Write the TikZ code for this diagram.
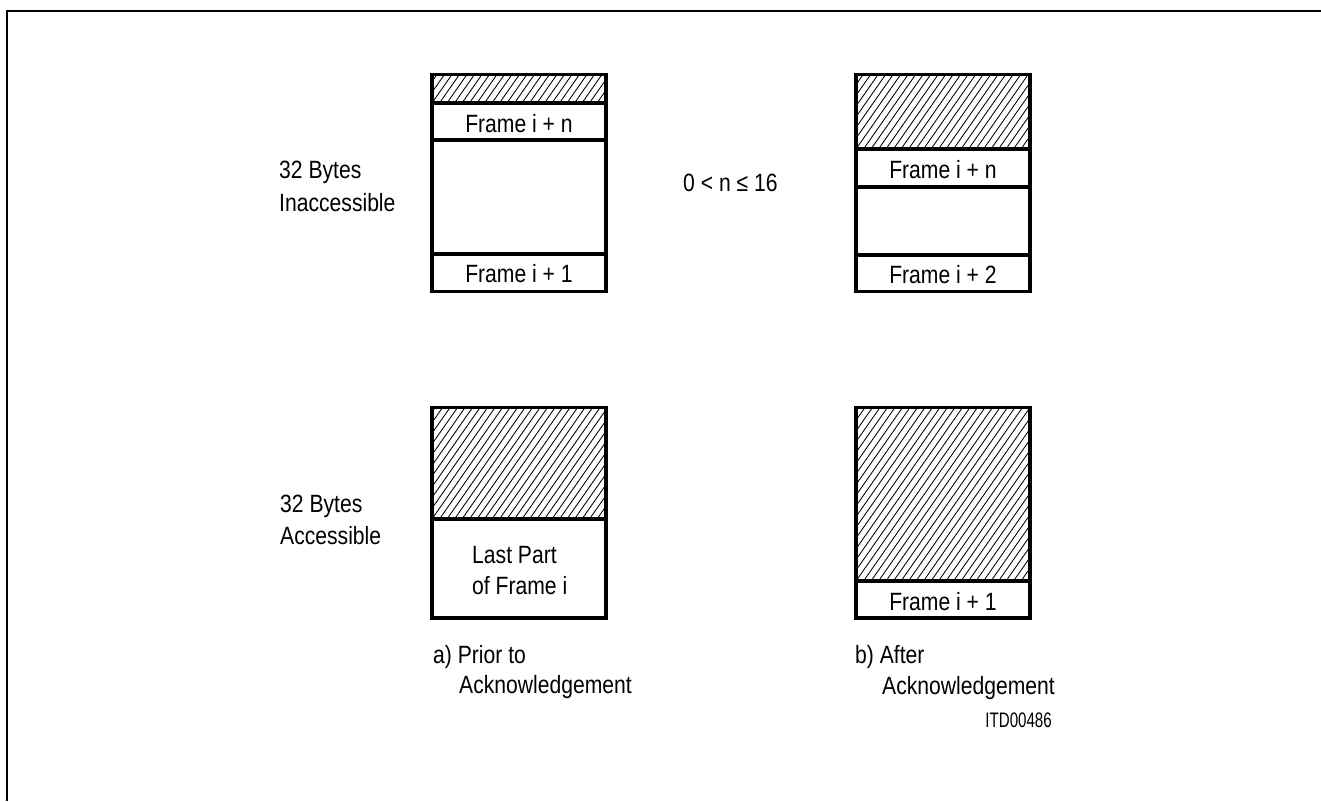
\documentclass[tikz,border=0pt]{standalone}
\usepackage{fontspec}
\setmainfont[FakeStretch=0.845]{Liberation Sans}
\newfontfamily\itdfont[FakeStretch=0.72]{Liberation Sans}
\newcommand{\hatchrect}[4]{%
  \begin{scope}
    \clip (#1,#2) rectangle (#3,#4);
    \foreach \s in {0,7.5,...,330}
      \draw[hatchline] ({#1-150+\s},#4) -- ++(140,-200);
  \end{scope}}
\begin{document}
\begin{tikzpicture}[x=1pt,y=-1pt,
  outline/.style={line width=3.5pt},
  divider/.style={line width=3.1pt},
  hatchline/.style={line width=0.85pt},
  lbl/.style={inner sep=0pt, font=\fontsize{25}{30}\selectfont},
  itd/.style={inner sep=0pt, font=\itdfont\fontsize{21}{24}\selectfont},
]
\useasboundingbox (0,0) rectangle (1321,801);
\fill[white] (0,0) rectangle (1321,801);
% page frame
\draw[line width=1.3pt] (6.5,11) -- (1321,11);
\draw[line width=1.9pt] (7,10.4) -- (7,801);

% Box A (top left)
\hatchrect{432}{74.5}{606}{103}
\draw[divider] (432,103) -- (606,103);
\draw[divider] (432,140) -- (606,140);
\draw[divider] (432,254) -- (606,254);
\draw[outline] (432,74.5) rectangle (606,291.5);

% Box B (top right)
\hatchrect{856}{74.5}{1030}{149}
\draw[divider] (856,149) -- (1030,149);
\draw[divider] (856,187) -- (1030,187);
\draw[divider] (856,255) -- (1030,255);
\draw[outline] (856,74.5) rectangle (1030,291.5);

% Box C (bottom left)
\hatchrect{432}{407.5}{606}{519}
\draw[divider] (432,519) -- (606,519);
\draw[outline] (432,407.5) rectangle (606,618);

% Box D (bottom right)
\hatchrect{856}{407.5}{1030}{581}
\draw[divider] (856,581) -- (1030,581);
\draw[outline] (856,407.5) rectangle (1030,618);

% texts
\node[lbl, anchor=base west] (inacc1) at (279,178) {32 Bytes};
\node[lbl, anchor=base west] (inacc2) at (279,211) {Inaccessible};
\node[lbl, anchor=base west] (acc1) at (280,512) {32 Bytes};
\node[lbl, anchor=base west] (acc2) at (280,544) {Accessible};
\node[lbl, anchor=base west] (range) at (683,191) {0 < n ≤ 16};

\node[lbl, anchor=base] (aN) at (519,132.5) {Frame i + n};
\node[lbl, anchor=base] (a1) at (519,282.5) {Frame i + 1};
\node[lbl, anchor=base] (bN) at (943,178) {Frame i + n};
\node[lbl, anchor=base] (b2) at (943,283) {Frame i + 2};
\node[lbl, anchor=base] (d1) at (943,610) {Frame i + 1};

\node[lbl, anchor=base west] (last1) at (472,563) {Last Part};
\node[lbl, anchor=base west] (last2) at (472,594) {of Frame i};

\node[lbl, anchor=base west] (capA1) at (433,663) {a) Prior to};
\node[lbl, anchor=base west] (capA2) at (459,693) {Acknowledgement};
\node[lbl, anchor=base west] (capB1) at (855,663) {b) After};
\node[lbl, anchor=base west] (capB2) at (882,694) {Acknowledgement};

\node[itd, anchor=base east] (itd) at (1052,727) {ITD00486};
\end{tikzpicture}
\end{document}
